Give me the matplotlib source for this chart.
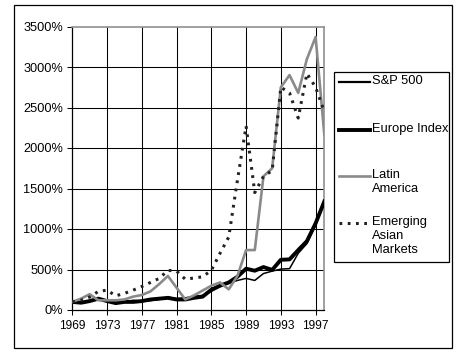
import matplotlib
matplotlib.use("Agg")
import matplotlib.pyplot as plt
from matplotlib.lines import Line2D
from matplotlib.patches import Rectangle

plt.rcParams['font.family'] = ['Liberation Sans', 'DejaVu Sans']

years = list(range(1969, 1999))
sp500 = [100, 95, 110, 130, 110, 80, 100, 120, 110, 115, 130, 160, 140, 150, 170,
         180, 230, 290, 330, 365, 390, 365, 450, 480, 505, 510, 700, 820, 1050, 1320]
europe = [100, 90, 110, 140, 110, 85, 100, 100, 110, 130, 140, 150, 130, 130, 150,
          165, 250, 300, 340, 410, 510, 485, 530, 495, 620, 625, 740, 850, 1070, 1340]
latin = [100, 140, 195, 120, 120, 120, 130, 165, 185, 230, 320, 420, 275, 130, 180,
         240, 300, 340, 255, 420, 740, 740, 1650, 1750, 2750, 2900, 2680, 3100, 3370, 2170]
asian = [100, 120, 160, 230, 245, 175, 205, 245, 290, 340, 390, 490, 480, 380, 395,
         410, 490, 700, 900, 1600, 2270, 1450, 1650, 1720, 2750, 2680, 2370, 2920, 2750, 2450]

series_names = ["S&P 500", "Europe Index", "Latin\nAmerica", "Emerging\nAsian\nMarkets"]
x_tick_years = [1969, 1973, 1977, 1981, 1985, 1989, 1993, 1997]
y_ticks = [0, 500, 1000, 1500, 2000, 2500, 3000, 3500]

W, H = 468, 355
fig = plt.figure(figsize=(W / 100, H / 100), dpi=100)

def fx(px):
    return px / W

def fy(py):
    return 1 - py / H

ax = fig.add_axes([fx(72.3), fy(310), fx(324.3) - fx(72.3), fy(26.5) - fy(310)])

styles = [
    dict(color="black", lw=1.1),
    dict(color="black", lw=2.8),
    dict(color="#8a8a8a", lw=1.9),
    dict(color="#222222", lw=2.2, linestyle=(0, (0.9, 1.8))),
]
data = [sp500, europe, latin, asian]
order = [2, 3, 0, 1]
for i in order:
    ax.plot(years, data[i], **styles[i], zorder=3 + i * 0.1)

ax.set_xlim(1969, 1998)
ax.set_ylim(0, 3500)
ax.set_xticks(x_tick_years)
ax.set_xticklabels([str(y) for y in x_tick_years], fontsize=8.6)
ax.set_yticks(y_ticks)
ax.set_yticklabels([f"{v}%" for v in y_ticks], fontsize=9.2)
for y in y_ticks[1:-1]:
    ax.axhline(y, color="black", lw=0.75, zorder=1)
for x in x_tick_years[1:]:
    ax.axvline(x, color="black", lw=0.75, zorder=1)
ax.tick_params(direction="out", length=3.5, width=0.75, pad=3)
ax.tick_params(axis="x", pad=4)
for s in ["left", "bottom"]:
    ax.spines[s].set_color("black")
    ax.spines[s].set_linewidth(0.9)
for s in ["top", "right"]:
    ax.spines[s].set_color("#909090")
    ax.spines[s].set_linewidth(1.2)

# outer frame
fig.patches.append(Rectangle((fx(14), fy(348)), fx(451.7) - fx(14), fy(4.7) - fy(348),
                             transform=fig.transFigure, fill=False, edgecolor="black", lw=0.9))
# legend box
fig.patches.append(Rectangle((fx(334), fy(262)), fx(449) - fx(334), fy(72) - fy(262),
                             transform=fig.transFigure, fill=False, edgecolor="black", lw=0.9))
entry_y = [82, 130, 176, 223]
legend_lw = [1.6, 2.8, 1.9, 2.2]
for i, name in enumerate(series_names):
    st = dict(styles[i])
    st["lw"] = legend_lw[i]
    fig.add_artist(Line2D([fx(339), fx(370)], [fy(entry_y[i]), fy(entry_y[i])],
                          transform=fig.transFigure, **st))
    fig.text(fx(372), fy(entry_y[i] - 7), name, fontsize=9.3, va="top",
             ha="left", linespacing=1.2, transform=fig.transFigure)

fig.savefig("out.png", dpi=100)
